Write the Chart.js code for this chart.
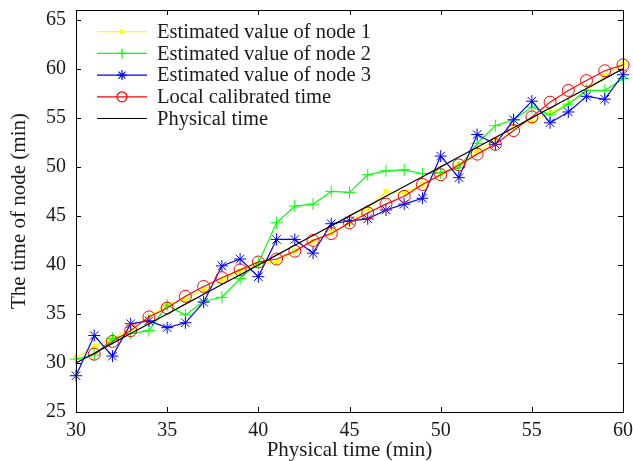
<!DOCTYPE html>
<html>
<head>
<meta charset="utf-8">
<script src="https://cdn.jsdelivr.net/npm/chart.js@4.4.1/dist/chart.umd.min.js"></script>
<style>
  html, body { margin: 0; padding: 0; background: #fff; }
  canvas { display: block; }
</style>
</head>
<body>
<canvas id="chart" width="633" height="461"></canvas>
<script>
/* ─── Node time estimation vs physical time ─────────────────────────────── */

// ─── Data ───────────────────────────────────────────────────────────────────

const minutes = [30, 31, 32, 33, 34, 35, 36, 37, 38, 39, 40, 41, 42, 43, 44, 45,
                 46, 47, 48, 49, 50, 51, 52, 53, 54, 55, 56, 57, 58, 59, 60];

const node1 = [30.5, 31.7, 32.5, 33.5, 34.7, 36.0, 36.5, 37.5, 38.4, 39.4, 40.1,
               40.3, 41.4, 42.4, 43.3, 44.3, 45.8, 47.5, 47.4, 48.2, 49.3, 50.3,
               51.5, 52.8, 54.1, 54.6, 55.5, 56.5, 57.7, 59.3, 60.5];

const node2 = [30.4, 30.8, 32.5, 33.0, 33.3, 35.9, 34.9, 36.3, 36.7, 38.6, 40.2,
               44.3, 46.0, 46.2, 47.5, 47.4, 49.2, 49.6, 49.7, 49.3, 49.4, 49.9,
               52.4, 54.2, 54.8, 56.1, 55.3, 56.4, 57.8, 57.8, 59.0];

const node3 = [28.7, 32.8, 30.7, 34.0, 34.3, 33.6, 34.1, 36.2, 39.9, 40.6, 38.8,
               42.6, 42.6, 41.2, 44.2, 44.5, 44.7, 45.6, 46.2, 46.8, 51.1, 48.9,
               53.3, 52.3, 54.8, 56.7, 54.5, 55.6, 57.2, 56.9, 59.4];

const localTime = [null, 30.9, 32.2, 33.3, 34.7, 35.6, 36.8, 37.8, 38.7, 39.5, 40.3,
                   40.6, 41.4, 42.5, 43.2, 44.3, 45.3, 46.2, 47.0, 48.2, 49.2, 50.2,
                   51.3, 52.3, 53.7, 55.1, 56.6, 57.8, 58.8, 59.8, 60.4];

const physicalTime = [30, 31, 32, 33, 34, 35, 36, 37, 38, 39, 40, 41, 42, 43, 44, 45,
                      46, 47, 48, 49, 50, 51, 52, 53, 54, 55, 56, 57, 58, 59, 60];

const xTicks = [30, 35, 40, 45, 50, 55, 60];
const yTicks = [25, 30, 35, 40, 45, 50, 55, 60, 65];

const labels = [
  'Estimated value of node 1',
  'Estimated value of node 2',
  'Estimated value of node 3',
  'Local calibrated time',
  'Physical time',
];

// ─── Styles ─────────────────────────────────────────────────────────────────

const COLORS = {
  node1: '#ffff00',
  node2: '#00ff00',
  node3: '#0000ff',
  local: '#ff0000',
  phys:  '#000000',
  text:  '#1a1a1a',
};

const FAMILY     = "'Liberation Serif','Times New Roman',serif";
const TICK_FONT  = { family: FAMILY, size: 20 };
const TITLE_FONT = { family: FAMILY, size: 21, lineHeight: 1 };
const LEGEND_PX  = 20.5;

const toXY = arr => minutes.map((m, i) => ({ x: m, y: arr[i] }));

const series = [
  { data: node1,        color: COLORS.node1, marker: 'dot',    radius: 2.5, order: 5 },
  { data: node2,        color: COLORS.node2, marker: 'cross',  radius: 6,   order: 4 },
  { data: node3,        color: COLORS.node3, marker: 'star',   radius: 6,   order: 3 },
  { data: localTime,    color: COLORS.local, marker: 'circle', radius: 6,   order: 2 },
  { data: physicalTime, color: COLORS.phys,  marker: 'none',   radius: 0,   order: 1 },
];

const chartStyle = { dot: 'circle', cross: 'cross', star: 'star', circle: 'circle', none: 'circle' };

// ─── Frame + inward ticks (MATLAB look) ─────────────────────────────────────

const framePlugin = {
  id: 'frame',
  afterDraw(chart) {
    const { ctx, chartArea: a, scales: { x, y } } = chart;
    const len = 5;
    ctx.save();
    ctx.strokeStyle = '#000';
    ctx.lineWidth = 1;
    ctx.strokeRect(a.left + 0.5, a.top + 0.5, a.right - a.left, a.bottom - a.top);
    ctx.beginPath();
    xTicks.forEach(v => {
      const px = Math.round(x.getPixelForValue(v)) + 0.5;
      ctx.moveTo(px, a.bottom); ctx.lineTo(px, a.bottom - len);
      ctx.moveTo(px, a.top);    ctx.lineTo(px, a.top + len);
    });
    yTicks.forEach(v => {
      const py = Math.round(y.getPixelForValue(v)) + 0.5;
      ctx.moveTo(a.left, py);  ctx.lineTo(a.left + len, py);
      ctx.moveTo(a.right, py); ctx.lineTo(a.right - len, py);
    });
    ctx.stroke();
    ctx.restore();
  },
};

// ─── Legend inside the plot, line sample with marker in the middle ──────────

function drawMarker(ctx, kind, cx, cy, r, color) {
  ctx.strokeStyle = color;
  ctx.fillStyle = color;
  ctx.beginPath();
  if (kind === 'dot') {
    ctx.arc(cx, cy, r, 0, Math.PI * 2);
    ctx.fill();
    return;
  }
  if (kind === 'circle') {
    ctx.arc(cx, cy, r, 0, Math.PI * 2);
  }
  if (kind === 'cross' || kind === 'star') {
    ctx.moveTo(cx - r, cy); ctx.lineTo(cx + r, cy);
    ctx.moveTo(cx, cy - r); ctx.lineTo(cx, cy + r);
  }
  if (kind === 'star') {
    const d = r * 0.707;
    ctx.moveTo(cx - d, cy - d); ctx.lineTo(cx + d, cy + d);
    ctx.moveTo(cx - d, cy + d); ctx.lineTo(cx + d, cy - d);
  }
  ctx.stroke();
}

const legendPlugin = {
  id: 'innerLegend',
  afterDraw(chart) {
    const { ctx, chartArea: a } = chart;
    const x0 = a.left + 21, x1 = x0 + 50, tx = x1 + 10;
    ctx.save();
    ctx.font = `${LEGEND_PX}px ${FAMILY}`;
    ctx.textBaseline = 'middle';
    ctx.lineWidth = 1.2;
    series.forEach((s, i) => {
      const yy = 31.7 + i * 21.7;
      ctx.strokeStyle = s.color;
      ctx.beginPath();
      ctx.moveTo(x0, yy); ctx.lineTo(x1, yy);
      ctx.stroke();
      if (s.marker !== 'none') drawMarker(ctx, s.marker, (x0 + x1) / 2, yy, s.marker === 'dot' ? 2.5 : 5, s.color);
      ctx.fillStyle = COLORS.text;
      ctx.fillText(labels[i], tx, yy + 1);
    });
    ctx.restore();
  },
};

// ─── Chart ──────────────────────────────────────────────────────────────────

new Chart(document.getElementById('chart'), {
  type: 'line',
  data: {
    datasets: series.map((s, i) => ({
      label: labels[i],
      data: toXY(s.data),
      borderColor: s.color,
      backgroundColor: s.marker === 'dot' ? s.color : 'transparent',
      pointBorderColor: s.color,
      pointBackgroundColor: s.marker === 'dot' ? s.color : 'transparent',
      pointStyle: chartStyle[s.marker],
      pointRadius: s.radius,
      pointBorderWidth: 1,
      borderWidth: 1.2,
      tension: 0,
      fill: false,
      spanGaps: false,
      clip: 8,
      order: s.order,
    })),
  },
  options: {
    responsive: false,
    animation: false,
    events: [],
    layout: { padding: { top: 10, right: 10, left: 0, bottom: 0 } },
    plugins: {
      legend: { display: false },
      tooltip: { enabled: false },
    },
    scales: {
      x: {
        type: 'linear',
        min: 30,
        max: 60,
        afterFit: s => { s.height = 49; s.paddingLeft = 0; s.paddingRight = 0; },
        afterBuildTicks: s => { s.ticks = xTicks.map(v => ({ value: v })); },
        grid: { display: false, drawTicks: false },
        border: { display: false },
        ticks: { font: TICK_FONT, color: COLORS.text, padding: 7, maxRotation: 0 },
        title: {
          display: true,
          text: 'Physical time (min)',
          font: TITLE_FONT,
          color: COLORS.text,
          padding: { top: 0, bottom: 0 },
        },
      },
      y: {
        min: 25,
        max: 66,
        afterFit: s => { s.width = 76; s.paddingTop = 0; s.paddingBottom = 0; },
        afterBuildTicks: s => { s.ticks = yTicks.map(v => ({ value: v })); },
        grid: { display: false, drawTicks: false },
        border: { display: false },
        ticks: { font: TICK_FONT, color: COLORS.text, padding: 10 },
        title: {
          display: true,
          text: 'The time of node (min)',
          font: TITLE_FONT,
          color: COLORS.text,
          padding: { top: 9, bottom: 0 },
        },
      },
    },
  },
  plugins: [framePlugin, legendPlugin],
});
</script>
</body>
</html>
